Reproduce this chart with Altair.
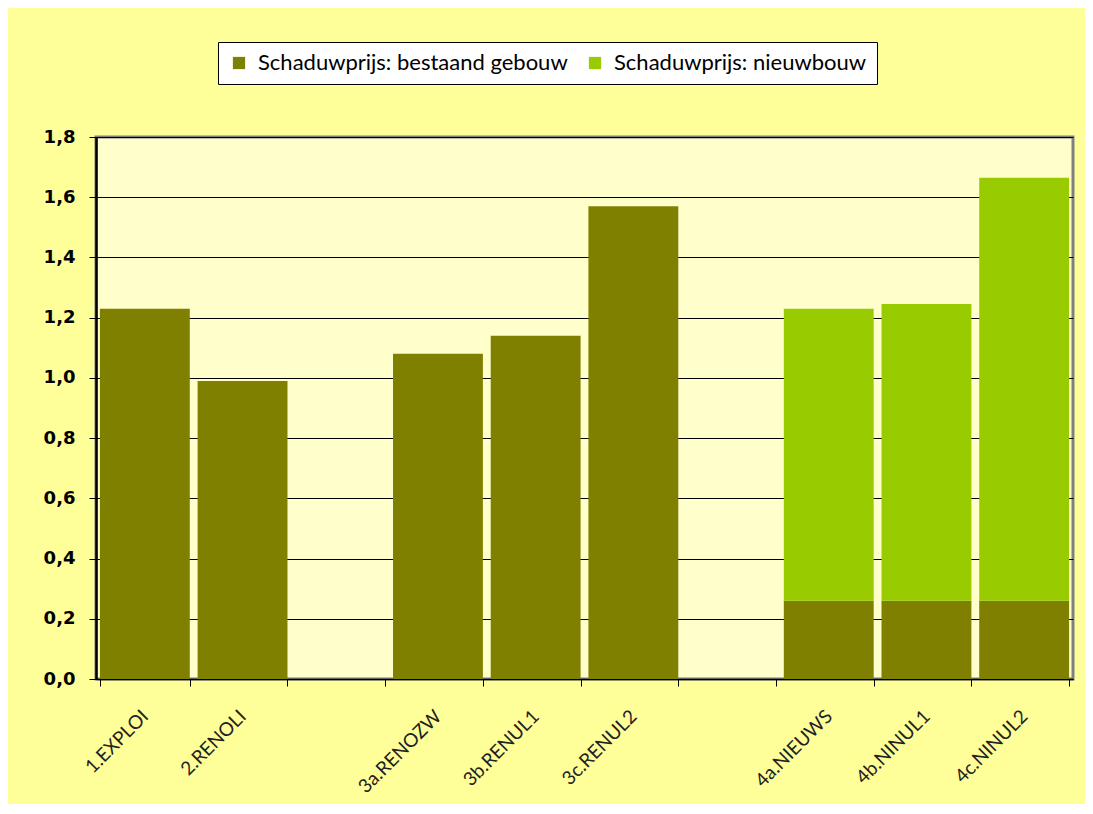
import altair as alt
import pandas as pd

categories = ["1.EXPLOI", "2.RENOLI", " ", "3a.RENOZW", "3b.RENUL1", "3c.RENUL2",
              "  ", "4a.NIEUWS", "4b.NINUL1", "4c.NINUL2"]
bar_categories = ["1.EXPLOI", "2.RENOLI", "3a.RENOZW", "3b.RENUL1", "3c.RENUL2",
                  "4a.NIEUWS", "4b.NINUL1", "4c.NINUL2"]
bestaand = [1.23, 0.99, 1.08, 1.14, 1.57, 0.26, 0.26, 0.26]
nieuwbouw = [0.0, 0.0, 0.0, 0.0, 0.0, 0.97, 0.985, 1.405]
series = ["Schaduwprijs: bestaand gebouw", "Schaduwprijs: nieuwbouw"]
colors = ["#808000", "#99CC00"]

rows = []
for c, b, n in zip(bar_categories, bestaand, nieuwbouw):
    rows.append({"cat": c, "serie": series[0], "val": b, "ord": 0})
    rows.append({"cat": c, "serie": series[1], "val": n, "ord": 1})
df = pd.DataFrame(rows)

chart = alt.Chart(df).mark_bar().encode(
    x=alt.X("cat:N", scale=alt.Scale(domain=categories, paddingInner=0.08, paddingOuter=0.04),
            axis=alt.Axis(title=None, labelAngle=-45, labelAlign="right", labelBaseline="middle",
                          labelPadding=27, tickBand="extent", tickSize=7, tickColor="black",
                          domainColor="black", domainWidth=1.5,
                          labelFont="Lato", labelFontSize=19, labelColor="#222222")),
    y=alt.Y("val:Q", stack="zero", scale=alt.Scale(domain=[0, 1.8], nice=False),
            axis=alt.Axis(title=None, values=[0, 0.2, 0.4, 0.6, 0.8, 1.0, 1.2, 1.4, 1.6, 1.8],
                          format=".1f",
                          grid=True, gridColor="black", gridWidth=1, gridOpacity=1,
                          tickSize=7, tickColor="black", domainColor="black", domainWidth=2.5,
                          labelPadding=14, labelFont="DejaVu Sans", labelFontSize=18,
                          labelFontWeight="bold", labelColor="black")),
    color=alt.Color("serie:N", scale=alt.Scale(domain=series, range=colors),
                    legend=alt.Legend(title=None, orient="none", legendX=122, legendY=-95,
                                      direction="horizontal", fillColor="white",
                                      strokeColor="black", padding=10,
                                      labelFont="Lato", labelFontSize=22, labelColor="black",
                                      symbolType="square", symbolSize=150,
                                      symbolStrokeWidth=0, columnPadding=16,
                                      labelOffset=8, labelLimit=400)),
    order=alt.Order("ord:Q"),
).properties(
    width=977, height=542,
    autosize=alt.AutoSizeParams(type="none"),
    padding={"left": 88, "top": 129, "right": 12, "bottom": 125},
    background="#FFFF99",
).configure_view(
    fill="#FFFFCC", stroke="#808080", strokeWidth=3,
)

chart.save("out.html", embed_options={
    "renderer": "svg", "actions": False,
    "formatLocale": {"decimal": ",", "thousands": ".", "grouping": [3], "currency": ["", " €"]},
})
